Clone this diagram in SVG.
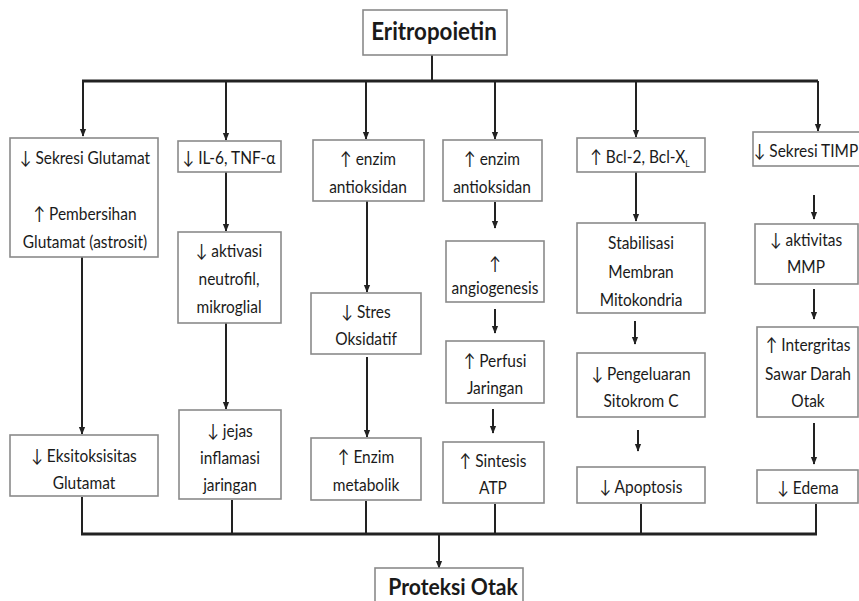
<svg xmlns="http://www.w3.org/2000/svg" width="859" height="601" viewBox="0 0 859 601">
<defs>
<marker id="ah" viewBox="0 0 10 10" refX="9" refY="5" markerWidth="4" markerHeight="4" orient="auto" markerUnits="strokeWidth"><path d="M0,1 L10,5 L0,9 z" fill="#222"/></marker>
</defs>
<style>
rect{fill:#fff;stroke:#8a8a8a;stroke-width:1.6}
text{font-family:Lato,"Open Sans","Liberation Sans",sans-serif;font-size:18px;fill:#1a1a1a;text-anchor:middle}
.t{font-weight:bold;font-size:24px}
.c line{stroke:#222;stroke-width:2}
.c .bar{stroke-width:3}
.c .a{marker-end:url(#ah)}
</style>
<rect width="859" height="601" style="fill:#fff;stroke:none"/>
<g class="c" id="connectors">
<line x1="432" y1="55" x2="432" y2="81"/>
<line class="bar" x1="82" y1="81" x2="818" y2="81"/>
<line class="a" x1="83" y1="81" x2="83" y2="136"/>
<line class="a" x1="226" y1="81" x2="226" y2="140"/>
<line class="a" x1="366" y1="81" x2="366" y2="139"/>
<line class="a" x1="495" y1="81" x2="495" y2="139"/>
<line class="a" x1="636" y1="81" x2="636" y2="137"/>
<line class="a" x1="818" y1="81" x2="818" y2="131"/>
<line class="a" x1="82" y1="257" x2="82" y2="434"/>
<line class="a" x1="226" y1="172" x2="226" y2="231"/>
<line class="a" x1="226" y1="323" x2="226" y2="409"/>
<line class="a" x1="367" y1="201" x2="367" y2="292"/>
<line class="a" x1="367" y1="357" x2="367" y2="437"/>
<line class="a" x1="495" y1="202" x2="495" y2="228"/>
<line class="a" x1="495" y1="309" x2="495" y2="333"/>
<line class="a" x1="493" y1="409" x2="493" y2="433"/>
<line class="a" x1="636" y1="172" x2="636" y2="221"/>
<line class="a" x1="635" y1="321" x2="635" y2="344"/>
<line class="a" x1="638" y1="430" x2="638" y2="451"/>
<line class="a" x1="814" y1="195" x2="814" y2="219"/>
<line class="a" x1="814" y1="289" x2="814" y2="319"/>
<line class="a" x1="814" y1="423" x2="814" y2="464"/>
<line x1="82" y1="497" x2="82" y2="534"/>
<line x1="232" y1="500" x2="232" y2="534"/>
<line x1="366" y1="501" x2="366" y2="534"/>
<line x1="495" y1="504" x2="495" y2="534"/>
<line x1="641" y1="504" x2="641" y2="534"/>
<line x1="816" y1="504" x2="816" y2="534"/>
<line class="bar" x1="81" y1="534" x2="817" y2="534"/>
<line class="a" x1="439" y1="534" x2="439" y2="568"/>
</g>
<g id="eritropoietin"><rect x="363" y="10" width="144" height="45"/><g transform="translate(434 0) scale(0.93 1)"><text class="t" x="0" y="40">Eritropoietin</text></g></g>
<g id="n1a"><rect x="10" y="138" width="148" height="119"/><g transform="translate(85 0) scale(0.86 1)"><text x="0" y="164">↓ Sekresi Glutamat</text><text x="0" y="220">↑ Pembersihan</text><text x="0" y="248">Glutamat (astrosit)</text></g></g>
<g id="n1b"><rect x="10" y="435" width="148" height="61"/><g transform="translate(84 0) scale(0.86 1)"><text x="0" y="462">↓ Eksitoksisitas</text><text x="0" y="489">Glutamat</text></g></g>
<g id="n2a"><rect x="178" y="141" width="103" height="31"/><g transform="translate(229 0) scale(0.86 1)"><text x="0" y="164">↓ IL-6, TNF-α</text></g></g>
<g id="n2b"><rect x="178" y="232" width="103" height="91"/><g transform="translate(229 0) scale(0.86 1)"><text x="0" y="257">↓ aktivasi</text><text x="0" y="285">neutrofil,</text><text x="0" y="313">mikroglial</text></g></g>
<g id="n2c"><rect x="179" y="410" width="102" height="89"/><g transform="translate(230 0) scale(0.86 1)"><text x="0" y="437">↓ jejas</text><text x="0" y="464">inflamasi</text><text x="0" y="491">jaringan</text></g></g>
<g id="n3a"><rect x="313" y="140" width="111" height="61"/><g transform="translate(368 0) scale(0.86 1)"><text x="0" y="165">↑ enzim</text><text x="0" y="193">antioksidan</text></g></g>
<g id="n3b"><rect x="311" y="293" width="110" height="61"/><g transform="translate(366 0) scale(0.86 1)"><text x="0" y="318">↓ Stres</text><text x="0" y="345">Oksidatif</text></g></g>
<g id="n3c"><rect x="311" y="438" width="110" height="62"/><g transform="translate(366 0) scale(0.86 1)"><text x="0" y="463">↑ Enzim</text><text x="0" y="491">metabolik</text></g></g>
<g id="n4a"><rect x="443" y="140" width="99" height="61"/><g transform="translate(492 0) scale(0.86 1)"><text x="0" y="165">↑ enzim</text><text x="0" y="193">antioksidan</text></g></g>
<g id="n4b"><rect x="446" y="241" width="98" height="61"/><g transform="translate(495 0) scale(0.86 1)"><text x="0" y="270">↑</text><text x="0" y="294">angiogenesis</text></g></g>
<g id="n4c"><rect x="446" y="341" width="98" height="62"/><g transform="translate(495 0) scale(0.86 1)"><text x="0" y="367">↑ Perfusi</text><text x="0" y="394">Jaringan</text></g></g>
<g id="n4d"><rect x="443" y="442" width="101" height="61"/><g transform="translate(493 0) scale(0.86 1)"><text x="0" y="467">↑ Sintesis</text><text x="0" y="494">ATP</text></g></g>
<g id="n5a"><rect x="577" y="138" width="128" height="34"/><g transform="translate(640 0) scale(0.86 1)"><text x="0" y="163">↑ Bcl-2, Bcl-X<tspan font-size="10" dy="4">L</tspan></text></g></g>
<g id="n5b"><rect x="577" y="223" width="128" height="90"/><g transform="translate(641 0) scale(0.86 1)"><text x="0" y="249">Stabilisasi</text><text x="0" y="278">Membran</text><text x="0" y="306">Mitokondria</text></g></g>
<g id="n5c"><rect x="577" y="353" width="128" height="64"/><g transform="translate(641 0) scale(0.86 1)"><text x="0" y="380">↓ Pengeluaran</text><text x="0" y="407">Sitokrom C</text></g></g>
<g id="n5d"><rect x="577" y="467" width="128" height="36"/><g transform="translate(641 0) scale(0.86 1)"><text x="0" y="493">↓ Apoptosis</text></g></g>
<g id="n6a"><rect x="753" y="132" width="110" height="34"/><g transform="translate(806 0) scale(0.86 1)"><text x="0" y="157">↓ Sekresi TIMP</text></g></g>
<g id="n6b"><rect x="755" y="224" width="103" height="60"/><g transform="translate(806 0) scale(0.86 1)"><text x="0" y="246">↓ aktivitas</text><text x="0" y="273">MMP</text></g></g>
<g id="n6c"><rect x="757" y="327" width="101" height="90"/><g transform="translate(808 0) scale(0.86 1)"><text x="0" y="351">↑ Intergritas</text><text x="0" y="380">Sawar Darah</text><text x="0" y="407">Otak</text></g></g>
<g id="n6d"><rect x="757" y="470" width="101" height="33"/><g transform="translate(808 0) scale(0.86 1)"><text x="0" y="494">↓ Edema</text></g></g>
<g id="proteksi"><rect x="375" y="568" width="148" height="40"/><g transform="translate(453 0) scale(0.92 1)"><text class="t" x="0" y="595" style="font-size:23px">Proteksi Otak</text></g></g>
</svg>
